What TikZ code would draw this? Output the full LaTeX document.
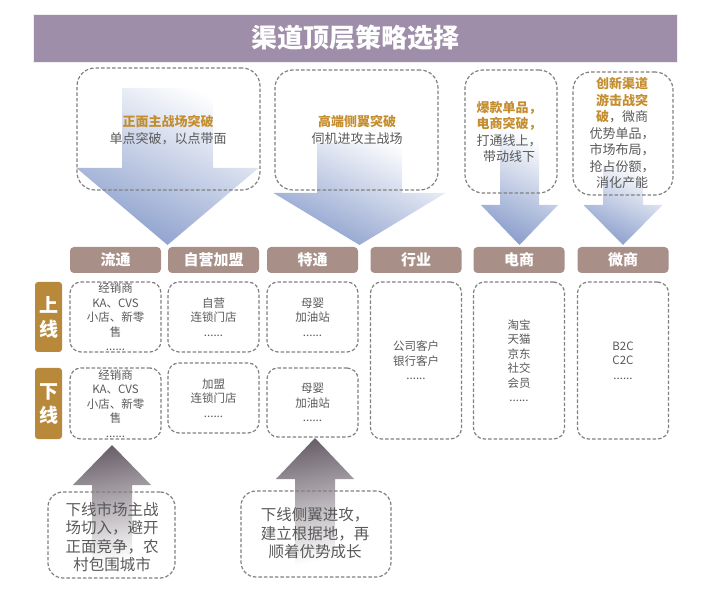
\documentclass[tikz,border=0pt]{standalone}
\usepackage{fontspec}
\setmainfont{Noto Sans CJK SC}
\definecolor{bannerc}{HTML}{9F8EA9}
\definecolor{hdrc}{HTML}{A88F87}
\definecolor{goldc}{HTML}{B8893B}
\definecolor{orac}{HTML}{C48E30}
\definecolor{txtc}{HTML}{595959}
\definecolor{dashc}{HTML}{808080}
\definecolor{ablue}{HTML}{8A9ECC}
\definecolor{agray}{HTML}{6B616B}
\tikzset{
  dbox/.style={draw=dashc, line width=1.2pt, dash pattern=on 3.5pt off 2pt, inner sep=0pt},
  topbox/.style={dbox, rounded corners=18pt},
  cellbox/.style={dbox, rounded corners=11pt, minimum width=91pt},
  botbox/.style={dbox, rounded corners=15pt},
  hdr/.style={fill=hdrc, rounded corners=4pt, minimum width=91pt, minimum height=26pt, inner sep=0pt,
    text=white, font=\bfseries\fontsize{15}{18}\selectfont},
  side/.style={fill=goldc, rounded corners=3pt, minimum width=27pt, inner sep=0pt, align=center,
    text=white, font=\bfseries\fontsize{19}{24}\selectfont},
  ctext/.style={align=center, text=txtc, inner sep=0pt, font=\fontsize{11.5}{14.5}\selectfont},
  ttext/.style={align=center, text=txtc, inner sep=0pt, font=\fontsize{13}{16.5}\selectfont},
  btext/.style={align=center, text=txtc, inner sep=0pt, font=\fontsize{15.5}{18.5}\selectfont},
  downarrow/.style={top color=white, middle color=ablue!45!white, bottom color=ablue, shading angle=-25},
  uparrow/.style={top color=agray, bottom color=white, shading angle=10},
}
\newcommand{\ob}[1]{{\color{orac}\bfseries #1}}
\begin{document}
\begin{tikzpicture}[x=1pt,y=-1pt]
\useasboundingbox (0,0) rectangle (720,609);
% banner
\node[fill=bannerc, draw=white!85!bannerc, minimum width=644pt, minimum height=48pt, inner sep=0pt] (banner) at (355,38) {};
\node[text=white, font=\bfseries\fontsize{26}{30}\selectfont, inner sep=0pt] (title) at (banner) {渠道顶层策略选择};

% down arrows
\shade[downarrow] (122,88) -- (213,88) -- (213,168) -- (258.5,168) -- (167.5,245) -- (76.5,168) -- (122,168) -- cycle;
\shade[downarrow] (317,143) -- (402,143) -- (402,193) -- (445.5,193) -- (359.5,245) -- (273.5,193) -- (317,193) -- cycle;
\shade[downarrow] (500,130) -- (539,130) -- (539,205) -- (558,205) -- (519.5,245) -- (481,205) -- (500,205) -- cycle;
\shade[downarrow] (603,165) -- (643,165) -- (643,205) -- (662.5,205) -- (623,245) -- (583.5,205) -- (603,205) -- cycle;
% up arrows
\shade[uparrow] (92,565) -- (92,485) -- (73,485) -- (112,445) -- (151,485) -- (132,485) -- (132,565) -- cycle;
\shade[uparrow] (295,565) -- (295,479) -- (276,479) -- (315,438) -- (354,479) -- (335,479) -- (335,565) -- cycle;

% top boxes
\node[topbox, minimum width=183pt, minimum height=122pt] (b1) at (168.5,129) {};
\node[topbox, minimum width=163pt, minimum height=120pt] (b2) at (356.5,130) {};
\node[topbox, minimum width=92pt, minimum height=123pt] (b3) at (511,131.5) {};
\node[topbox, minimum width=100pt, minimum height=123pt] (b4) at (623,133.5) {};
\node[ttext] (b1t) at (168,130) {\ob{正面主战场突破}\\单点突破，以点带面};
\node[ttext] (b2t) at (357,130) {\ob{高端侧翼突破}\\伺机进攻主战场};
\node[ttext] (b3t) at (509,132) {\ob{爆款单品，}\\\ob{电商突破，}\\打通线上，\\带动线下};
\node[ttext] (b4t) at (622,133) {\ob{创新渠道}\\\ob{游击战突}\\\ob{破}，微商\\优势单品，\\市场布局，\\抢占份额，\\消化产能};

% headers
\node[hdr] (h1) at (115.5,260) {流通};
\node[hdr] (h2) at (213.5,260) {自营加盟};
\node[hdr] (h3) at (312.5,260) {特通};
\node[hdr] (h4) at (416,260) {行业};
\node[hdr] (h5) at (519,260) {电商};
\node[hdr] (h6) at (623,260) {微商};

% side labels
\node[side, minimum height=70pt] (s1) at (48.5,317) {上\\线};
\node[side, minimum height=71pt] (s2) at (48.5,403.5) {下\\线};

% cells
\node[cellbox, minimum height=70pt] (u1) at (115.5,317) {};
\node[cellbox, minimum height=70pt] (u2) at (213.5,317) {};
\node[cellbox, minimum height=70pt] (u3) at (312.5,317) {};
\node[cellbox, minimum height=71pt] (d1) at (115.5,403.5) {};
\node[cellbox, minimum height=70pt] (d2) at (213.5,398) {};
\node[cellbox, minimum height=69pt] (d3) at (312.5,402.5) {};
\node[cellbox, minimum height=157pt] (r4) at (416,360.5) {};
\node[cellbox, minimum height=157pt] (r5) at (519,360.5) {};
\node[cellbox, minimum height=157pt] (r6) at (623,360.5) {};

\node[ctext] (u1t) at (u1) {经销商\\KA、CVS\\小店、新零\\售\\......};
\node[ctext] (u2t) at (u2) {自营\\连锁门店\\......};
\node[ctext] (u3t) at (u3) {母婴\\加油站\\......};
\node[ctext] (d1t) at (d1) {经销商\\KA、CVS\\小店、新零\\售\\......};
\node[ctext] (d2t) at (d2) {加盟\\连锁门店\\......};
\node[ctext] (d3t) at (d3) {母婴\\加油站\\......};
\node[ctext] (r4t) at (r4) {公司客户\\银行客户\\......};
\node[ctext] (r5t) at (r5) {淘宝\\天猫\\京东\\社交\\会员\\......};
\node[ctext] (r6t) at (r6) {B2C\\C2C\\......};

% bottom boxes
\node[botbox, minimum width=127pt, minimum height=86pt] (e1) at (111.5,535) {};
\node[botbox, minimum width=150pt, minimum height=86pt] (e2) at (316,534) {};
\node[btext] (e1t) at (112,537) {下线市场主战\\场切入，避开\\正面竞争，农\\村包围城市};
\node[btext] (e2t) at (315,533.5) {下线侧翼进攻，\\建立根据地，再\\顺着优势成长};
\end{tikzpicture}
\end{document}
